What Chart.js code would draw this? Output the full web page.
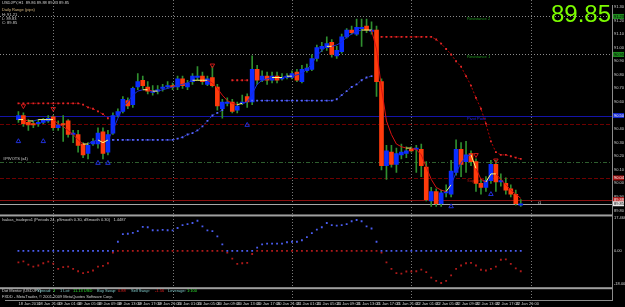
<!DOCTYPE html>
<html>
<head>
<meta charset="utf-8">
<script src="https://cdn.jsdelivr.net/npm/chart.js@4.4.1/dist/chart.umd.min.js"></script>
<style>
  html, body { margin: 0; padding: 0; background: #000; }
</style>
</head>
<body>
<canvas id="chart" width="625" height="307"></canvas>
<script>
// time axis: one label every 4 hourly bars, bar 0 = 18 Jan 17:00
const tickLabels = [
  "18 Jan 2010", "18 Jan 21:00", "19 Jan 01:00", "19 Jan 05:00", "19 Jan 09:00", "19 Jan 13:00",
  "19 Jan 17:00", "19 Jan 21:00", "20 Jan 01:00", "20 Jan 05:00", "20 Jan 09:00", "20 Jan 13:00",
  "20 Jan 17:00", "20 Jan 21:00", "21 Jan 01:00", "21 Jan 05:00", "21 Jan 09:00", "21 Jan 13:00",
  "21 Jan 17:00", "21 Jan 21:00", "22 Jan 01:00", "22 Jan 05:00", "22 Jan 09:00", "22 Jan 13:00",
  "22 Jan 17:00", "22 Jan 21:00"
];
const dayStartBars = [7, 31, 55, 79, 103];

const open = [
  90.47, 90.50, 90.45, 90.44, 90.44, 90.45, 90.46, 90.49, 90.41, 90.44,
  90.46, 90.36, 90.36, 90.29, 90.22, 90.29, 90.29, 90.38, 90.23, 90.37,
  90.50, 90.53, 90.61, 90.58, 90.71, 90.76, 90.71, 90.67, 90.68, 90.70,
  90.71, 90.72, 90.71, 90.77, 90.71, 90.75, 90.78, 90.79, 90.73, 90.78,
  90.71, 90.55, 90.59, 90.60, 90.54, 90.59, 90.64, 90.60, 90.84, 90.76,
  90.79, 90.76, 90.79, 90.77, 90.78, 90.78, 90.82, 90.75, 90.83, 90.84,
  90.92, 90.99, 91.00, 91.04, 90.94, 90.97, 91.08, 91.13, 91.10, 91.14,
  91.16, 91.12, 91.13, 90.75, 90.13, 90.23, 90.14, 90.21, 90.22, 90.25,
  90.25, 90.25, 90.12, 89.87, 89.94, 89.85, 89.93, 89.92, 90.08, 90.25,
  90.16, 90.22, 90.16, 90.00, 89.97, 90.02, 90.14, 90.01, 90.00, 89.96,
  89.92, 89.84
];
const high = [
  90.53, 90.52, 90.47, 90.46, 90.47, 90.48, 90.50, 90.50, 90.46, 90.50,
  90.47, 90.39, 90.39, 90.30, 90.30, 90.33, 90.41, 90.41, 90.39, 90.52,
  90.55, 90.64, 90.63, 90.71, 90.81, 90.79, 90.75, 90.72, 90.72, 90.73,
  90.75, 90.74, 90.79, 90.79, 90.76, 90.81, 90.86, 90.82, 90.79, 90.86,
  90.73, 90.62, 90.63, 90.62, 90.60, 90.65, 90.66, 90.94, 90.87, 90.83,
  90.82, 90.82, 90.82, 90.81, 90.81, 90.83, 90.84, 90.87, 90.88, 90.95,
  91.02, 91.04, 91.08, 91.06, 91.01, 91.10, 91.14, 91.16, 91.21, 91.21,
  91.21, 91.19, 91.16, 90.77, 90.28, 90.28, 90.26, 90.29, 90.27, 90.27,
  90.28, 90.29, 90.16, 89.97, 89.96, 89.95, 89.99, 90.17, 90.32, 90.30,
  90.31, 90.24, 90.18, 90.03, 90.05, 90.17, 90.17, 90.07, 90.04, 89.99,
  89.95, 89.88
];
const low = [
  90.45, 90.42, 90.39, 90.41, 90.42, 90.44, 90.45, 90.39, 90.39, 90.31,
  90.34, 90.30, 90.23, 90.19, 90.18, 90.28, 90.26, 90.18, 90.21, 90.36,
  90.49, 90.52, 90.55, 90.56, 90.69, 90.70, 90.66, 90.65, 90.66, 90.68,
  90.70, 90.69, 90.69, 90.70, 90.69, 90.73, 90.76, 90.73, 90.72, 90.71,
  90.54, 90.48, 90.57, 90.52, 90.52, 90.58, 90.56, 90.58, 90.73, 90.75,
  90.73, 90.74, 90.74, 90.76, 90.77, 90.77, 90.75, 90.74, 90.82, 90.83,
  90.90, 90.97, 90.98, 90.93, 90.92, 90.96, 91.07, 91.10, 91.09, 91.01,
  91.11, 91.10, 90.64, 90.10, 90.03, 90.12, 90.08, 90.18, 90.19, 90.23,
  90.08, 90.05, 89.87, 89.83, 89.83, 89.83, 89.90, 89.90, 90.06, 90.05,
  90.08, 90.13, 89.94, 89.92, 89.94, 90.00, 89.94, 89.98, 89.92, 89.90,
  89.84, 89.83
];
const close = [
  90.50, 90.44, 90.43, 90.43, 90.45, 90.47, 90.48, 90.41, 90.43, 90.43,
  90.36, 90.37, 90.28, 90.21, 90.28, 90.31, 90.37, 90.22, 90.36, 90.50,
  90.53, 90.62, 90.57, 90.70, 90.75, 90.72, 90.68, 90.68, 90.69, 90.71,
  90.72, 90.71, 90.77, 90.72, 90.74, 90.79, 90.79, 90.75, 90.77, 90.72,
  90.57, 90.60, 90.60, 90.53, 90.57, 90.60, 90.60, 90.84, 90.76, 90.79,
  90.76, 90.79, 90.76, 90.78, 90.79, 90.81, 90.76, 90.84, 90.85, 90.92,
  91.00, 91.01, 91.03, 90.95, 90.98, 91.08, 91.13, 91.11, 91.15, 91.15,
  91.13, 91.13, 90.75, 90.13, 90.24, 90.14, 90.22, 90.23, 90.24, 90.24,
  90.26, 90.13, 89.88, 89.94, 89.85, 89.93, 89.94, 90.09, 90.25, 90.14,
  90.21, 90.16, 90.00, 89.97, 90.02, 90.14, 90.01, 90.02, 89.95, 89.92,
  89.85, 89.85
];
// colour moving average drawn over the candles
const hma = [
  90.47, 90.47, 90.46, 90.46, 90.47, 90.47, 90.47, 90.47, 90.44, 90.42,
  90.39, 90.36, 90.32, 90.29, 90.29, 90.31, 90.32, 90.30, 90.32, 90.39,
  90.48, 90.56, 90.60, 90.65, 90.68, 90.69, 90.69, 90.68, 90.68, 90.69,
  90.70, 90.71, 90.72, 90.73, 90.74, 90.76, 90.76, 90.76, 90.76, 90.74,
  90.70, 90.65, 90.61, 90.59, 90.58, 90.59, 90.60, 90.66, 90.73, 90.76,
  90.77, 90.78, 90.78, 90.78, 90.79, 90.79, 90.80, 90.81, 90.84, 90.88,
  90.94, 90.98, 91.01, 91.01, 91.02, 91.04, 91.08, 91.10, 91.12, 91.13,
  91.13, 91.13, 90.99, 90.70, 90.46, 90.36, 90.29, 90.27, 90.26, 90.26,
  90.25, 90.21, 90.12, 90.03, 89.97, 89.95, 89.94, 89.99, 90.08, 90.15,
  90.20, 90.21, 90.11, 90.03, 90.01, 90.07, 90.07, 90.03, 89.99, 89.95,
  89.92, 89.89
];
// trailing stops (null = not drawn)
const sellStop = [
  90.59, 90.59, 90.59, 90.59, 90.59, 90.59, 90.59, 90.59, 90.59, 90.59,
  90.59, 90.59, 90.59, 90.58, 90.56, 90.55, 90.53, 90.51, 90.48, null,
  null, null, null, null, null, null, null, null, null, null,
  null, null, null, null, null, null, null, null, null, null,
  null, null, null, 90.76, 90.76, 90.76, 90.76, null, null, null,
  null, null, null, null, null, null, null, null, null, null,
  null, null, null, null, null, null, null, null, null, null,
  null, null, null, 91.08, 91.08, 91.08, 91.08, 91.08, 91.08, 91.08,
  91.08, 91.08, 91.08, 91.08, 91.06, 91.03, 90.99, 90.95, 90.90, 90.86,
  90.79, 90.72, 90.63, 90.55, 90.44, 90.31, 90.23, 90.21, 90.21, 90.20,
  90.19, 90.18
];
const buyStop = [
  null, null, null, null, null, null, null, null, null, null,
  null, null, null, null, null, null, null, null, null, 90.32,
  90.32, 90.32, 90.32, 90.32, 90.32, 90.32, 90.32, 90.32, 90.32, 90.32,
  90.32, 90.32, 90.33, 90.34, 90.36, 90.37, 90.39, 90.42, 90.46, 90.50,
  90.52, 90.54, null, null, null, null, null, 90.61, 90.61, 90.61,
  90.61, 90.61, 90.61, 90.61, 90.61, 90.61, 90.61, 90.61, 90.61, 90.61,
  90.61, 90.61, 90.61, 90.61, 90.62, 90.65, 90.68, 90.71, 90.73, 90.76,
  90.78, 90.79, null, null, null, null, null, null, null, null,
  null, null, null, null, null, null, null, null, null, null,
  null, null, null, null, null, null, null, null, null, null,
  null, null
];
// lower window oscillator
const osc = [
  -6.2, -5.7, -7.4, -8.5, -7.9, -6.7, -5.8, -6.9, -9.7, -8.8,
  -8.5, -9.7, -11.0, -12.0, -11.5, -10.6, -8.5, -8.1, -6.7, -0.9,
  4.9, 9.0, 9.2, 9.7, 10.6, 12.9, 12.7, 11.1, 11.0, 11.3,
  11.1, 11.0, 12.3, 13.8, 14.4, 15.0, 16.2, 13.2, 11.0, 10.6,
  7.8, 3.5, -1.0, -4.2, -7.0, -6.7, -6.5, -1.7, 1.7, 3.5,
  3.9, 3.9, 3.9, 3.9, 4.6, 4.9, 4.9, 5.7, 7.4, 9.5,
  11.4, 12.7, 15.0, 13.8, 13.6, 13.8, 14.4, 15.9, 16.6, 15.9,
  13.2, 12.0, 4.9, -1.0, -6.2, -9.7, -12.0, -12.3, -11.1, -11.1,
  -11.0, -10.1, -11.5, -14.4, -16.2, -17.3, -16.2, -13.2, -9.7, -7.9,
  -6.7, -6.5, -7.9, -10.2, -10.6, -9.7, -8.5, -4.8, -4.6, -7.0,
  -9.4, -11.0
];
const sellArrowBars = [1, 7, 39, 92, 96];
const sellArrowPrices = [90.57, 90.55, 90.87, 90.21, 90.17];
const buyArrowBars = [0, 5, 16, 18, 46, 87, 95];
const buyArrowPrices = [90.31, 90.31, 90.15, 90.15, 90.43, 89.83, 89.92];

const priceTicks = [91.3, 91.2, 91.1, 91.0, 90.9, 90.8, 90.7, 90.6, 90.5, 90.4, 90.3, 90.2, 90.1, 90.0, 89.9, 89.8];
const oscTicks = [17.466, 0, -18];
const levelPrices = [91.23, 90.95, 90.50, 90.44, 90.155, 90.04, 89.88, 89.85];
const levelNames = ["Resistance 2", "Resistance 1", "Pivot Point", "", "", "Support 1", "", ""];
const lastPrice = "89.85";

const BULL = '#0b2dff', BEAR = '#ff3b0c', WICK = '#2f8f2f';
const TXT = '#d0d0d0';
const FONT = '"Liberation Sans", Arial, sans-serif';

const maColor = (ctx) => {
  const i = ctx.p0DataIndex;
  const d = hma[i + 1] - hma[i];
  const prev = i > 0 ? hma[i] - hma[i - 1] : d;
  if (Math.abs(d) < 0.006) return '#ffff7a';
  if (Math.abs(prev) >= 0.006 && Math.sign(prev) !== Math.sign(d)) return '#ffff7a';
  return d > 0 ? '#1b2bd8' : '#d81010';
};

// horizontal levels: line style, label colour, axis tag
const levelStyle = [
  { c: '#8c8c8c', dash: [1, 2], txt: '#1e9a1e', tag: '#1e8c1e', tagTxt: '#000' },
  { c: '#8c8c8c', dash: [1, 2], txt: '#1e9a1e', tag: '#1e8c1e', tagTxt: '#000' },
  { c: '#1414a8', dash: [], txt: '#2a2ae0', tag: '#1428d0', tagTxt: '#fff' },
  { c: '#6e0000', dash: [4, 2] },
  { c: '#2e5e2e', dash: [4, 2, 1, 2] },
  { c: '#6e0000', dash: [4, 2], txt: '#b01010', tag: '#a01010', tagTxt: '#fff' },
  { c: '#8a1010', dash: [], tag: '#b01010', tagTxt: '#fff' },
  { c: '#a8a8a8', dash: [], tag: '#e8e8e8', tagTxt: '#000' },
];

function text(ctx, s, x, y, color, size, align) {
  ctx.fillStyle = color;
  ctx.font = (size || 4) + 'px ' + FONT;
  ctx.textAlign = align || 'left';
  ctx.textBaseline = 'middle';
  ctx.fillText(s, x, y);
}

const mtDecor = {
  id: 'mtDecor',
  beforeDatasetsDraw(chart) {
    const { ctx, scales: { x, y } } = chart;
    const right = x.right;
    ctx.save();
    ctx.lineWidth = 1;
    // day separators
    ctx.strokeStyle = '#7a7a7a';
    ctx.setLineDash([1, 2]);
    dayStartBars.forEach((b) => {
      const px = Math.round(x.getPixelForValue(b)) + 0.5;
      ctx.beginPath(); ctx.moveTo(px, 0); ctx.lineTo(px, 307); ctx.stroke();
    });
    // price levels
    levelPrices.forEach((p, k) => {
      const st = levelStyle[k];
      const py = Math.round(y.getPixelForValue(p)) + 0.5;
      ctx.strokeStyle = st.c;
      ctx.setLineDash(st.dash);
      ctx.beginPath(); ctx.moveTo(0, py); ctx.lineTo(right, py); ctx.stroke();
      if (levelNames[k]) text(ctx, levelNames[k], 467, py + 2, st.txt, 4);
    });
    ctx.restore();
  },
  afterDraw(chart) {
    const { ctx, scales: { x, y, yOsc, yInfo } } = chart;
    const right = x.right;
    ctx.save();
    // window separators
    ctx.fillStyle = '#a0a0a0';
    ctx.fillRect(0, yOsc.top, right, 2);
    ctx.fillRect(0, yInfo.top, right, 2);
    // axis tags
    levelPrices.forEach((p, k) => {
      const st = levelStyle[k];
      if (!st.tag) return;
      const py = y.getPixelForValue(p);
      ctx.fillStyle = st.tag;
      ctx.fillRect(right + 1, py - 2.5, 11, 5);
      text(ctx, p.toFixed(2), right + 2, py, st.tagTxt, 4);
    });
    // corner texts
    text(ctx, 'USDJPY,H1  89.86 89.88 89.83 89.85', 2, 3, TXT, 4);
    text(ctx, 'Daily Range (pips)', 2, 10, '#d8b880', 4);
    text(ctx, 'H: 91.21', 2, 15, TXT, 4);
    text(ctx, 'L: 89.83', 2, 19, TXT, 4);
    text(ctx, 'C: 89.85', 2, 23, TXT, 4);
    text(ctx, '#PIVOTS (x4)', 3, 159, TXT, 4);
    text(ctx, 't1', 538, 203, TXT, 4);
    // big bid
    ctx.fillStyle = '#7cfc00';
    ctx.font = '24px ' + FONT;
    ctx.textAlign = 'right';
    ctx.textBaseline = 'alphabetic';
    ctx.fillText(lastPrice, 611, 22);
    // indicator window title
    text(ctx, 'Isakas_tradepro1 (Periods 24, pSmooth 0.30, dSmooth 0.30)   1.4487', 2, yOsc.top + 5, TXT, 4);
    // info window
    const iy = yInfo.top + 4;
    const parts = [
      ['Dot Mentor (USDJPY)', 2, TXT], ['Spread:', 37, '#7fc8c8'], ['3', 53, '#30e030'],
      ['1 Lot:', 60, '#7fc8c8'], ['11.13 USD', 73, '#30e030'], ['Buy Swap:', 97, '#7fc8c8'],
      ['0.88', 118, '#e02020'], ['Sell Swap:', 131, '#7fc8c8'], ['-1.56', 155, '#e02020'],
      ['Leverage:', 168, '#7fc8c8'], ['1:100', 187, '#30e030'],
    ];
    parts.forEach(([s, px, c]) => text(ctx, s, px, iy, c, 4));
    text(ctx, 'FXDD - MetaTrader, \u00a9 2001-2009 MetaQuotes Software Corp.', 2, yInfo.top + 10, TXT, 4);
    ctx.restore();
  },
};

function paneAxis(min, max, weight, tickValues, fmt) {
  return {
    position: 'right', stack: 'panes', stackWeight: weight, min, max,
    grid: { display: false, drawTicks: false },
    border: { display: true, color: '#8c8c8c' },
    afterBuildTicks: (s) => { s.ticks = tickValues.map((v) => ({ value: v })); },
    ticks: { display: tickValues.length > 0, color: TXT, font: { size: 4, family: FONT }, padding: 2, autoSkip: false, callback: fmt },
    afterFit: (s) => { s.width = 13; s.paddingTop = 0; s.paddingBottom = 0; },
  };
}

const pts = (arr) => arr.map((v, i) => ({ x: i, y: v }));

new Chart(document.getElementById('chart'), {
  type: 'bar',
  data: {
    datasets: [
      {
        label: 'wicks', data: low.map((l, i) => ({ x: i, y: [l, high[i]] })),
        backgroundColor: WICK, barThickness: 1, grouped: false, order: 9,
      },
      {
        label: 'bodies', data: open.map((o, i) => ({ x: i, y: [o, close[i]] })),
        backgroundColor: open.map((o, i) => (close[i] >= o ? BULL : BEAR)),
        barThickness: 4, minBarLength: 1, grouped: false, order: 8,
      },
      {
        type: 'line', label: 'hma', data: pts(hma), borderWidth: 1, pointRadius: 0,
        segment: { borderColor: maColor }, order: 6,
      },
      {
        type: 'line', label: 'sell stop', data: pts(sellStop), borderColor: '#b40000', borderWidth: 1,
        borderDash: [2, 2], pointRadius: 1.3, pointStyle: 'rect', pointBackgroundColor: '#e02828',
        pointBorderWidth: 0, spanGaps: false, order: 5,
      },
      {
        type: 'line', label: 'buy stop', data: pts(buyStop), borderColor: '#2a38c8', borderWidth: 1,
        borderDash: [2, 2], pointRadius: 1.3, pointStyle: 'rect', pointBackgroundColor: '#5a68ff',
        pointBorderWidth: 0, spanGaps: false, order: 5,
      },
      {
        type: 'scatter', label: 'sell arrows',
        data: sellArrowBars.map((b, k) => ({ x: b, y: sellArrowPrices[k] })),
        pointStyle: 'triangle', rotation: 180, pointRadius: 2.6, borderColor: '#d01818',
        backgroundColor: 'rgba(0,0,0,0)', borderWidth: 1, order: 4,
      },
      {
        type: 'scatter', label: 'buy arrows',
        data: buyArrowBars.map((b, k) => ({ x: b, y: buyArrowPrices[k] })),
        pointStyle: 'triangle', pointRadius: 2.6, borderColor: '#2030d8',
        backgroundColor: 'rgba(0,0,0,0)', borderWidth: 1, order: 4,
      },
      {
        type: 'line', label: 'osc up', yAxisID: 'yOsc', showLine: false,
        data: osc.map((v, i) => ({ x: i, y: v > 0 ? v : 0 })),
        pointRadius: 1.3, pointStyle: 'rect', pointBackgroundColor: '#4a5cf0', pointBorderWidth: 0, order: 3,
      },
      {
        type: 'line', label: 'osc down', yAxisID: 'yOsc', showLine: false,
        data: osc.map((v, i) => ({ x: i, y: v < 0 ? v : 0 })),
        pointRadius: 1.3, pointStyle: 'rect', pointBackgroundColor: '#b01a1a', pointBorderWidth: 0, order: 3,
      },
    ],
  },
  options: {
    responsive: false,
    animation: false,
    events: [],
    layout: { padding: 0 },
    plugins: { legend: { display: false }, tooltip: { enabled: false } },
    scales: {
      x: {
        type: 'linear', position: 'bottom', min: -0.35, max: 117,
        grid: { display: false, drawTicks: false },
        border: { display: true, color: '#8c8c8c' },
        afterBuildTicks: (s) => { s.ticks = tickLabels.map((t, k) => ({ value: k * 4 })); },
        ticks: {
          autoSkip: false, maxRotation: 0, align: 'start', padding: 1, color: TXT,
          font: { size: 4, family: FONT }, callback: (v, k) => tickLabels[k],
        },
        afterFit: (s) => { s.height = 7; s.paddingLeft = 0; s.paddingRight = 0; },
      },
      y: paneAxis(89.771, 91.3145, 213, priceTicks, (v) => v.toFixed(2)),
      yOsc: paneAxis(-19.58, 19.58, 74, oscTicks, (v) => (v === 17.466 ? '17.466' : v.toFixed(2))),
      yInfo: paneAxis(0, 1, 13, [], (v) => ''),
    },
  },
  plugins: [mtDecor],
});
</script>
</body>
</html>
